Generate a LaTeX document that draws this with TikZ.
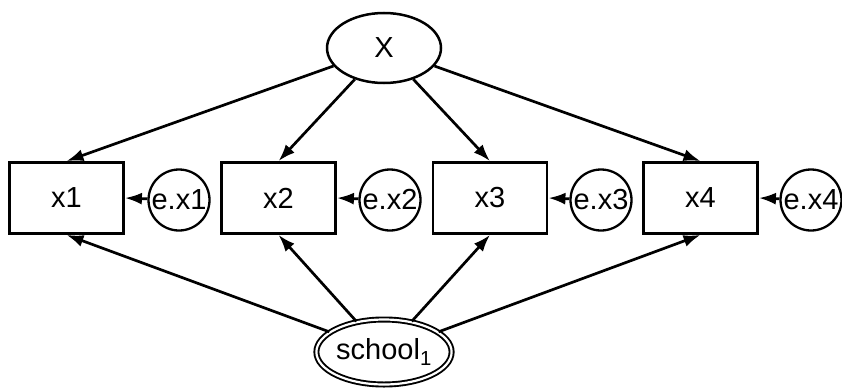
\documentclass[tikz,border=0pt]{standalone}
\usepackage{fontspec}
\setmainfont{Liberation Sans}
\usetikzlibrary{shapes.geometric,arrows.meta}
\tikzset{
  every node/.style={font=\fontsize{29}{33}\selectfont, inner sep=0pt},
  obs/.style={draw, line width=2.8pt, minimum width=114pt, minimum height=71pt},
  err/.style={draw, circle, line width=2.3pt, minimum size=61pt},
  lat/.style={draw, ellipse, line width=2.5pt, minimum width=114pt, minimum height=70pt},
  ml/.style={draw, ellipse, double, line width=1.9pt, double distance=2.2pt, minimum width=110pt, minimum height=65pt},
  path/.style={line width=2.7pt, -{Latex[length=17pt,width=12pt]}}
}
\begin{document}
\begin{tikzpicture}[x=1pt,y=-1pt]
\useasboundingbox (0,0) rectangle (842,388);
\node[lat] (X) at (384,48) {X};
\node[obs] (x1) at (66.5,198) {x1};
\node[obs] (x2) at (278.5,198) {x2};
\node[obs] (x3) at (490,198) {x3};
\node[obs] (x4) at (700.5,198) {x4};
\node[err] (e1) at (179,200) {e.x1};
\node[err] (e2) at (390,200) {e.x2};
\node[err] (e3) at (601,200) {e.x3};
\node[err] (e4) at (811,200) {e.x4};
\node[ml] (s) at (384,352) {school\textsubscript{1}};
\foreach \i in {1,2,3,4} {
  \draw[path] (X) -- (x\i.north);
  \draw[path] (s) -- (x\i.south);
  \draw[path] (e\i) -- (x\i.east);
}
\end{tikzpicture}
\end{document}
